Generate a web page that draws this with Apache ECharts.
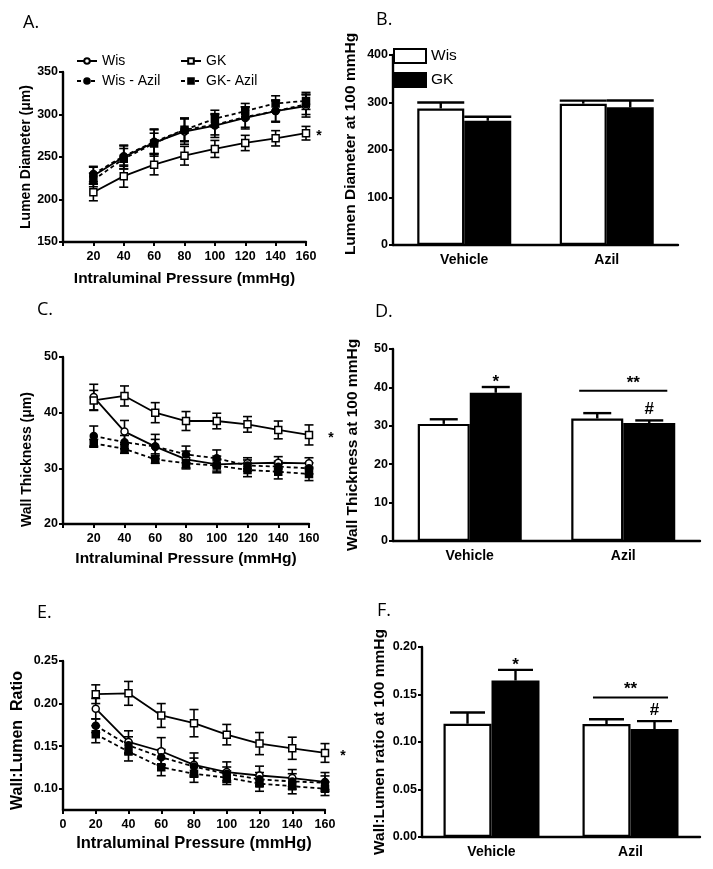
<!DOCTYPE html>
<html>
<head>
<meta charset="utf-8">
<script src="https://cdn.jsdelivr.net/npm/echarts@6/dist/echarts.min.js"></script>
<style>
html,body{margin:0;padding:0;background:#fff;}
#c{width:713px;height:869px;}
</style>
</head>
<body>
<div id="c"></div>
<script>
// ---------- data ----------
const pressure = [20, 40, 60, 80, 100, 120, 140, 160];
const groups = ['Vehicle', 'Azil'];

// Panel A: Lumen diameter (um)
const aWis = [228, 250, 267, 280, 287, 296, 304, 310];
const aWisErr = [10, 14, 16, 15, 14, 13, 13, 13];
const aGK = [208.5, 227.5, 241, 251.5, 259.5, 266.5, 272, 278];
const aGKErr = [10, 13, 12, 11, 10, 9, 9, 8];
const aWisAzil = [230, 251, 268, 282, 288, 297, 304, 312];
const aWisAzilErr = [9, 12, 14, 14, 12, 12, 12, 12];
const aGKAzil = [223, 248, 266, 282, 295, 304, 313, 316];
const aGKAzilErr = [8, 12, 12, 13, 10, 9, 9, 10];

// Panel B: Lumen diameter at 100 mmHg
const bWis = [287.5, 297.5];
const bWisErr = [12.5, 6.5];
const bGK = [261.5, 289.8];
const bGKErr = [8.5, 14.5];

// Panel C: Wall thickness (um)
const cWis = [42.8, 36.6, 33.9, 31.6, 30.7, 30.9, 31.0, 30.9];
const cWisErr = [2.3, 2.0, 2.2, 1.5, 1.5, 1.0, 1.1, 1.0];
const cGK = [42.2, 43.0, 40.0, 38.5, 38.5, 37.9, 36.9, 36.0];
const cGKErr = [1.8, 1.8, 1.8, 1.7, 1.4, 1.4, 1.6, 1.8];
const cWisAzil = [35.8, 34.7, 33.9, 32.5, 31.8, 30.5, 30.3, 30.0];
const cWisAzilErr = [1.8, 1.2, 1.3, 1.5, 1.5, 1.0, 1.0, 1.0];
const cGKAzil = [34.5, 33.5, 31.6, 30.9, 30.5, 29.7, 29.4, 29.0];
const cGKAzilErr = [0.7, 0.8, 0.7, 1.0, 1.0, 1.2, 1.3, 1.2];

// Panel D: Wall thickness at 100 mmHg
const dWis = [30.5, 31.9];
const dWisErr = [1.2, 1.4];
const dGK = [38.6, 30.7];
const dGKErr = [1.5, 0.7];
const dGKMarks = ['*', '#'];
const dBracket = [[1, 39.1]];

// Panel E: Wall:Lumen ratio
const eWis = [0.194, 0.155, 0.144, 0.128, 0.1195, 0.1155, 0.1125, 0.108];
const eWisErr = [0.012, 0.013, 0.016, 0.014, 0.012, 0.011, 0.010, 0.011];
const eGK = [0.211, 0.212, 0.186, 0.177, 0.1635, 0.153, 0.1475, 0.142];
const eGKErr = [0.011, 0.014, 0.014, 0.016, 0.012, 0.013, 0.013, 0.011];
const eWisAzil = [0.174, 0.151, 0.137, 0.126, 0.1175, 0.111, 0.1086, 0.107];
const eWisAzilErr = [0.008, 0.010, 0.009, 0.010, 0.008, 0.008, 0.009, 0.008];
const eGKAzil = [0.164, 0.1436, 0.1253, 0.1175, 0.113, 0.106, 0.103, 0.100];
const eGKAzilErr = [0.010, 0.011, 0.010, 0.010, 0.008, 0.009, 0.009, 0.008];

// Panel F: Wall:Lumen ratio at 100 mmHg
const fWis = [0.1192, 0.1189];
const fWisErr = [0.0118, 0.0051];
const fGK = [0.1647, 0.1136];
const fGKErr = [0.0112, 0.0084];
const fGKMarks = ['*', '#'];
const fBracket = [[1, 0.1468]];

// ---------- helpers ----------
const FONT = 'Liberation Sans, Arial, sans-serif';
const BLK = '#000';

function lineErrSeries(gi, ys, errs) {
  return {
    type: 'custom', xAxisIndex: gi, yAxisIndex: gi, z: 2, silent: true,
    data: pressure.map((p, i) => [p, ys[i], errs[i]]),
    renderItem: function (params, api) {
      const x = api.value(0), y = api.value(1), e = api.value(2);
      const hi = api.coord([x, y + e]), lo = api.coord([x, y - e]);
      const st = { stroke: BLK, lineWidth: 1.6 };
      return { type: 'group', children: [
        { type: 'line', shape: { x1: hi[0], y1: hi[1], x2: lo[0], y2: lo[1] }, style: st },
        { type: 'line', shape: { x1: hi[0] - 4.5, y1: hi[1], x2: hi[0] + 4.5, y2: hi[1] }, style: st },
        { type: 'line', shape: { x1: lo[0] - 4.5, y1: lo[1], x2: lo[0] + 4.5, y2: lo[1] }, style: st }
      ]};
    }
  };
}

function lineSeries(name, gi, ys, open, square, dashed, starDist) {
  const data = pressure.map((p, i) => [p, ys[i]]);
  if (starDist) {
    const last = data.length - 1;
    data[last] = { value: data[last], label: { show: true, formatter: '*', position: 'right', distance: starDist,
      offset: [0, 3], color: BLK, fontFamily: FONT, fontSize: 14, fontWeight: 'bold' } };
  }
  return {
    type: 'line', name: name, xAxisIndex: gi, yAxisIndex: gi, z: 3, silent: true,
    data: data,
    symbol: square ? 'rect' : 'circle', symbolSize: 7,
    itemStyle: { color: open ? '#fff' : BLK, borderColor: BLK, borderWidth: 1.5 },
    lineStyle: { color: BLK, width: 1.8, type: dashed ? [4, 3] : 'solid' }
  };
}

function barSeries(name, gi, vals, white, bw) {
  return {
    type: 'bar', name: name, xAxisIndex: gi, yAxisIndex: gi, z: 2, silent: true,
    data: vals, barWidth: bw, barGap: '0%',
    itemStyle: { color: white ? '#fff' : BLK, borderColor: BLK, borderWidth: 2.2 }
  };
}

function barErrSeries(gi, vals, errs, side, bw, capW, marks) {
  return {
    type: 'custom', xAxisIndex: gi, yAxisIndex: gi, z: 4, silent: true,
    data: vals.map((v, i) => [i, v, errs[i]]),
    renderItem: function (params, api) {
      const ci = api.value(0), v = api.value(1), e = api.value(2);
      const b = api.coord([ci, v]), t = api.coord([ci, v + e]);
      const x = b[0] + side * bw / 2;
      const st = { stroke: BLK, lineWidth: 2.4 };
      const ch = [
        { type: 'line', shape: { x1: x, y1: b[1], x2: x, y2: t[1] }, style: st },
        { type: 'line', shape: { x1: x - capW / 2, y1: t[1], x2: x + capW / 2, y2: t[1] }, style: st }
      ];
      const m = marks ? marks[params.dataIndex] : null;
      if (m) {
        ch.push({ type: 'text', x: x, y: t[1] - (m === '#' ? 11 : 5),
          style: { text: m, fill: BLK, font: 'bold 17px ' + FONT, align: 'center', verticalAlign: 'middle' } });
      }
      return { type: 'group', children: ch };
    }
  };
}

function bracketSeries(gi, data, frac, txtOff) {
  return {
    type: 'custom', xAxisIndex: gi, yAxisIndex: gi, z: 4, silent: true,
    data: data,
    renderItem: function (params, api) {
      const c = api.coord([api.value(0), api.value(1)]);
      const band = api.size([1, 0])[0];
      return { type: 'group', children: [
        { type: 'line', shape: { x1: c[0] - frac * band, y1: c[1], x2: c[0] + frac * band, y2: c[1] },
          style: { stroke: BLK, lineWidth: 2 } },
        { type: 'text', x: c[0] + txtOff, y: c[1] - 8,
          style: { text: '**', fill: BLK, font: 'bold 17px ' + FONT, align: 'center', verticalAlign: 'middle' } }
      ]};
    }
  };
}

const axLine = { show: true, onZero: false, lineStyle: { color: BLK, width: 2.4 } };
const axTick = { show: true, length: 4, lineStyle: { color: BLK, width: 2 } };
const lbl = (extra) => Object.assign({ color: BLK, fontFamily: FONT, fontSize: 12.5, fontWeight: 'bold',
  showMinLabel: true, showMaxLabel: true }, extra || {});
const nameSt = (fs, pad) => ({ color: BLK, fontFamily: FONT, fontSize: fs, fontWeight: 'bold', padding: pad || 0 });

function pressureAxis(gi, showZero, nameGap, fs) {
  return {
    type: 'value', gridIndex: gi, min: 0, max: 160, interval: 20,
    name: 'Intraluminal Pressure (mmHg)', nameLocation: 'middle', nameGap: nameGap, nameTextStyle: nameSt(fs),
    axisLine: axLine, axisTick: axTick, splitLine: { show: false },
    axisLabel: lbl({ margin: 8, formatter: v => (v === 0 && !showZero) ? '' : String(v) })
  };
}

function catAxis(gi) {
  return {
    type: 'category', gridIndex: gi, data: groups,
    axisLine: axLine, axisTick: { show: false }, splitLine: { show: false },
    axisLabel: lbl({ fontSize: 14, margin: 8 })
  };
}

function yVal(gi, min, max, interval, name, nameGap, fs, pad, fmt, custom) {
  const a = {
    type: 'value', gridIndex: gi, min: min, max: max,
    name: name, nameLocation: 'middle', nameGap: nameGap, nameTextStyle: nameSt(fs, pad),
    axisLine: axLine, axisTick: Object.assign({}, axTick), splitLine: { show: false },
    axisLabel: lbl({ margin: 5, formatter: fmt || (v => String(v)) })
  };
  if (custom) {
    a.axisLabel.customValues = custom;
    a.axisTick.customValues = custom;
  } else {
    a.interval = interval;
  }
  return a;
}

const chart = echarts.init(document.getElementById('c'), null, { renderer: 'canvas' });

const legendText = { color: BLK, fontFamily: FONT, fontSize: 14 };
function oneLegend(name, left, top) {
  return { data: [name], left: left, top: top, padding: 0, itemWidth: 20, itemHeight: 7,
    itemGap: 5, textStyle: legendText, selectedMode: false };
}

const option = {
  animation: false,
  backgroundColor: '#fff',
  grid: [
    { left: 63, top: 72, width: 243, height: 170 },
    { left: 393, top: 55, width: 285, height: 190 },
    { left: 63, top: 357, width: 246, height: 167 },
    { left: 393, top: 349, width: 307, height: 192 },
    { left: 63, top: 661, width: 262, height: 149 },
    { left: 422, top: 647, width: 278, height: 190 }
  ],
  legend: [
    oneLegend('Wis', 76, 54),
    oneLegend('GK', 180, 54),
    oneLegend('Wis - Azil', 76, 74),
    oneLegend('GK- Azil', 180, 74),
    { data: [{ name: 'Wis bar', icon: 'rect' }, { name: 'GK bar', icon: 'rect' }], left: 393, top: 48,
      orient: 'vertical', padding: 0,
      itemWidth: 32, itemHeight: 14, itemGap: 8, textStyle: { color: BLK, fontFamily: FONT, fontSize: 15.5 },
      selectedMode: false, formatter: n => n.replace(' bar', '') }
  ],
  xAxis: [
    pressureAxis(0, false, 29, 15.5),
    catAxis(1),
    pressureAxis(2, false, 27, 15.5),
    catAxis(3),
    pressureAxis(4, true, 25, 16.5),
    catAxis(5)
  ],
  yAxis: [
    yVal(0, 150, 350, 50, 'Lumen Diameter (\u03bcm)', 30, 14),
    yVal(1, 0, 400, 100, 'Lumen Diameter at 100 mmHg', 34, 15.5, [0, 0, 0, 12]),
    yVal(2, 20, 50, 10, 'Wall Thickness (\u03bcm)', 29, 14, [0, 38, 0, 0]),
    yVal(3, 0, 50, 10, 'Wall Thickness at 100 mmHg', 32, 15.5),
    yVal(4, 0.075, 0.25, null, 'Wall:Lumen  Ratio', 37, 16, [0, 10, 0, 0], v => v.toFixed(2), [0.10, 0.15, 0.20, 0.25]),
    yVal(5, 0, 0.20, 0.05, 'Wall:Lumen ratio at 100 mmHg', 34, 15.5, 0, v => v.toFixed(2))
  ],
  series: [
    // Panel A
    lineErrSeries(0, aWis, aWisErr), lineErrSeries(0, aGK, aGKErr),
    lineErrSeries(0, aWisAzil, aWisAzilErr), lineErrSeries(0, aGKAzil, aGKAzilErr),
    lineSeries('Wis', 0, aWis, true, false, false),
    lineSeries('GK', 0, aGK, true, true, false, 6),
    lineSeries('Wis - Azil', 0, aWisAzil, false, false, true),
    lineSeries('GK- Azil', 0, aGKAzil, false, true, true),
    // Panel B
    barSeries('Wis bar', 1, bWis, true, 47), barSeries('GK bar', 1, bGK, false, 47),
    barErrSeries(1, bWis, bWisErr, -1, 47, 47), barErrSeries(1, bGK, bGKErr, 1, 47, 47),
    // Panel C
    lineErrSeries(2, cWis, cWisErr), lineErrSeries(2, cGK, cGKErr),
    lineErrSeries(2, cWisAzil, cWisAzilErr), lineErrSeries(2, cGKAzil, cGKAzilErr),
    lineSeries('Wis', 2, cWis, true, false, false),
    lineSeries('GK', 2, cGK, true, true, false, 15),
    lineSeries('Wis - Azil', 2, cWisAzil, false, false, true),
    lineSeries('GK- Azil', 2, cGKAzil, false, true, true),
    // Panel D
    barSeries('Wis bar', 3, dWis, true, 52), barSeries('GK bar', 3, dGK, false, 52),
    barErrSeries(3, dWis, dWisErr, -1, 52, 28), barErrSeries(3, dGK, dGKErr, 1, 52, 28, dGKMarks),
    bracketSeries(3, dBracket, 0.287, 10),
    // Panel E
    lineErrSeries(4, eWis, eWisErr), lineErrSeries(4, eGK, eGKErr),
    lineErrSeries(4, eWisAzil, eWisAzilErr), lineErrSeries(4, eGKAzil, eGKAzilErr),
    lineSeries('Wis', 4, eWis, true, false, false),
    lineSeries('GK', 4, eGK, true, true, false, 11),
    lineSeries('Wis - Azil', 4, eWisAzil, false, false, true),
    lineSeries('GK- Azil', 4, eGKAzil, false, true, true),
    // Panel F
    barSeries('Wis bar', 5, fWis, true, 48), barSeries('GK bar', 5, fGK, false, 48),
    barErrSeries(5, fWis, fWisErr, -1, 48, 35), barErrSeries(5, fGK, fGKErr, 1, 48, 35, fGKMarks),
    bracketSeries(5, fBracket, 0.27, 0)
  ],
  graphic: [
    ['A.', 23, 22], ['B.', 376, 19], ['C.', 37, 309], ['D.', 375, 311], ['E.', 37, 612], ['F.', 377, 610]
  ].map(t => ({ type: 'text', left: t[1], top: t[2] - 8,
    style: { text: t[0], fill: BLK, font: '18px "Open Sans", sans-serif' } }))
};

chart.setOption(option);
</script>
</body>
</html>
